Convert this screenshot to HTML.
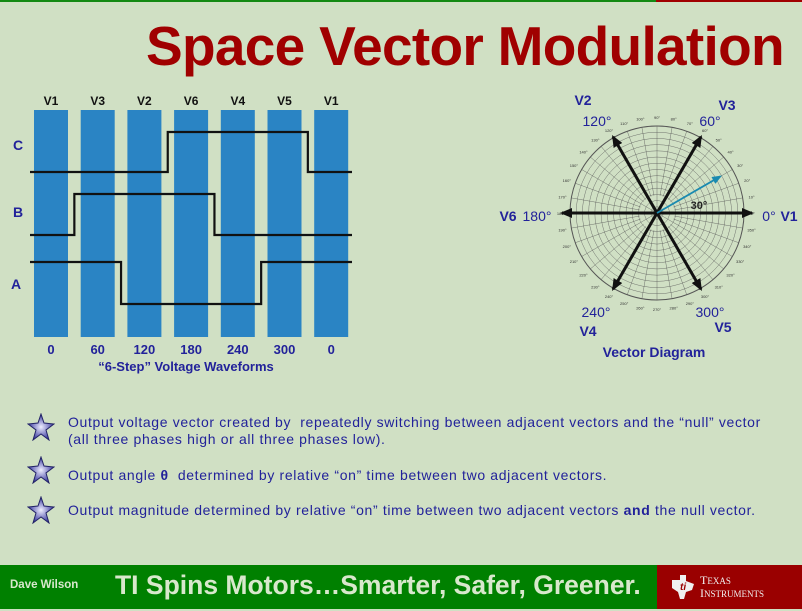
<!DOCTYPE html>
<html><head><meta charset="utf-8"><style>
body{margin:0;width:802px;height:611px;background:#D0E0C4;font-family:"Liberation Sans",Arial,sans-serif;overflow:hidden;position:relative}
.t{position:absolute;white-space:nowrap}
.blt{position:absolute;left:68px;font-size:14px;letter-spacing:0.65px;color:#22229a;line-height:17px;white-space:nowrap}
</style></head><body>
<div style="position:absolute;left:0;top:0;width:656px;height:2px;background:#138a13"></div>
<div style="position:absolute;left:656px;top:0;width:146px;height:2px;background:#a00000"></div>
<div class="t" style="left:146px;top:14px;font-size:55px;font-weight:bold;color:#a00000;letter-spacing:-0.7px">Space Vector Modulation</div>

<svg id="wave" width="802" height="611" style="position:absolute;left:0;top:0" font-family="Liberation Sans, Arial, sans-serif"></svg>

<div>
<svg style="position:absolute;left:27px;top:413px" width="28" height="28"><defs><radialGradient id="sg"><stop offset="0" stop-color="#eef"/><stop offset="1" stop-color="#3a3aa0"/></radialGradient></defs><polygon points="14,1 17,10 27,11 19,17 22,27 14,21 6,27 9,17 1,11 11,10" fill="url(#sg)" stroke="#222266" stroke-width="1"/></svg>
<svg style="position:absolute;left:27px;top:456px" width="28" height="28"><polygon points="14,1 17,10 27,11 19,17 22,27 14,21 6,27 9,17 1,11 11,10" fill="url(#sg)" stroke="#222266" stroke-width="1"/></svg>
<svg style="position:absolute;left:27px;top:496px" width="28" height="28"><polygon points="14,1 17,10 27,11 19,17 22,27 14,21 6,27 9,17 1,11 11,10" fill="url(#sg)" stroke="#222266" stroke-width="1"/></svg>
<div class="blt" style="top:414px">Output voltage vector created by&nbsp; repeatedly switching between adjacent vectors and the “null” vector<br>(all three phases high or all three phases low).</div>
<div class="blt" style="top:467px">Output angle <b>θ</b>&nbsp; determined by relative “on” time between two adjacent vectors.</div>
<div class="blt" style="top:502px">Output magnitude determined by relative “on” time between two adjacent vectors <b>and</b> the null vector.</div>
</div>

<div style="position:absolute;left:0;top:565px;width:657px;height:44px;background:#008000"></div>
<div style="position:absolute;left:657px;top:565px;width:145px;height:44px;background:#9a0000"></div>
<div class="t" style="left:10px;top:579px;font-size:11.5px;font-weight:bold;color:#d8e8cc">Dave Wilson</div>
<div class="t" style="left:115px;top:570px;font-size:26.5px;font-weight:bold;color:#d8e8cc">TI Spins Motors…Smarter, Safer, Greener.</div>
<svg style="position:absolute;left:668px;top:572px" width="30" height="30"><path d="M4,8 L12,8 L12,3 L18,3 L18,9 L26,12 L24,18 L18,20 L16,27 L12,27 L10,20 L4,16 Z" fill="#f0f0f0"/><text x="12" y="18" font-size="10" font-style="italic" font-weight="bold" fill="#9a0000">ti</text></svg>
<div class="t" style="left:700px;top:574px;font-family:'Liberation Serif',serif;font-size:12px;color:#f0f0f0;line-height:12px">T<span style="font-size:9px">EXAS</span><br>I<span style="font-size:9px">NSTRUMENTS</span></div>

<script>
const barLabels=["V1","V3","V2","V6","V4","V5","V1"];
const angleLabels=["0","60","120","180","240","300","0"];
const phaseA=[1,1,0,0,0,1,1];
const phaseB=[0,1,1,1,0,0,0];
const phaseC=[0,0,0,1,1,1,0];
const vecAngles=[0,60,120,180,240,300];
const vecNames=["V1","V3","V2","V6","V4","V5"];
const outAngle=30;
const outMag=0.84;

const NS="http://www.w3.org/2000/svg";
const svg=document.getElementById('wave');
function mk(tag,attrs,parent){const e=document.createElementNS(NS,tag);for(const k in attrs)e.setAttribute(k,attrs[k]);(parent||svg).appendChild(e);return e;}
function txt(x,y,s,size,fill,weight,anchor){const t=mk('text',{x:x,y:y,'font-size':size,fill:fill,'font-weight':weight||'bold','text-anchor':anchor||'middle'});t.textContent=s;return t;}
const x0=34,step=46.7,bw=34;
const bx=i=>x0+i*step;
for(let i=0;i<barLabels.length;i++){
  const r=mk('rect',{x:bx(i),y:110,width:bw,height:227,fill:'#2a84c4'});
  
  
  const l=txt(bx(i)+bw/2,105,barLabels[i],12,'#111');
  
  
  const a=txt(bx(i)+bw/2,354,angleLabels[i],13,'#22229a');
  
  
}
const wt=txt(186,371,"“6-Step” Voltage Waveforms",13,'#22229a');


function wave(states,lo,hi,name){
  const y=s=>s?hi:lo;
  let d='M30,'+y(states[0]);
  for(let i=1;i<states.length;i++){
    if(states[i]!==states[i-1]){const gx=(bx(i-1)+bw+bx(i))/2;d+=' L'+gx+','+y(states[i-1])+' L'+gx+','+y(states[i]);}
  }
  d+=' L352,'+y(states[states.length-1]);
  const p=mk('path',{d:d,fill:'none',stroke:'#111','stroke-width':2.2});
  
  
}
wave(phaseC,172,132,'phase-c-wave');
wave(phaseB,235,194,'phase-b-wave');
wave(phaseA,304,262,'phase-a-wave');
[["C",18,150],["B",18,217],["A",16,289]].forEach(v=>{const t=txt(v[1],v[2],v[0],14,'#22229a');});

const cx=657,cy=213,R=87;
const g=mk('g',{});


for(let k=1;k<=14;k++)mk('circle',{cx:cx,cy:cy,r:R*k/14,fill:'none',stroke:'#555','stroke-width':k==14?1:0.4},g);
for(let a=0;a<360;a+=10){const rr=(a%30==0)?0:R*0.2;const t=a*Math.PI/180;mk('line',{x1:cx+rr*Math.cos(t),y1:cy-rr*Math.sin(t),x2:cx+R*Math.cos(t),y2:cy-R*Math.sin(t),stroke:'#555','stroke-width':0.4},g);
  const lt=mk('text',{x:cx+(R+9)*Math.cos(t),y:cy-(R+9)*Math.sin(t)+2,'font-size':4,fill:'#333','text-anchor':'middle'},g);lt.textContent=a+'°';}
mk('defs',{}).innerHTML='<marker id="ah" markerUnits="userSpaceOnUse" markerWidth="12" markerHeight="10" refX="10" refY="5" orient="auto"><path d="M0,0 L12,5 L0,10 Z" fill="#111"/></marker><marker id="ab" markerUnits="userSpaceOnUse" markerWidth="10" markerHeight="8" refX="8" refY="4" orient="auto"><path d="M0,0 L10,4 L0,8 Z" fill="#1a8ab0"/></marker>';
vecAngles.forEach((a,i)=>{const t=a*Math.PI/180;const len=(a%180==0)?95:88;
  const l=mk('line',{x1:cx,y1:cy,x2:cx+len*Math.cos(t),y2:cy-len*Math.sin(t),stroke:'#111','stroke-width':3,'marker-end':'url(#ah)'});
  
  });
const ot=outAngle*Math.PI/180;
const ov=mk('line',{x1:cx,y1:cy,x2:cx+R*outMag*Math.cos(ot),y2:cy-R*outMag*Math.sin(ot),stroke:'#1a8ab0','stroke-width':1.8,'marker-end':'url(#ab)'});


const labs=[["V2",583,105,14,'bold'],["120°",597,126,14,'normal'],["V3",727,110,14,'bold'],["60°",710,126,14,'normal'],["V6",508,221,14,'bold'],["180°",537,221,14,'normal'],["0°",769,221,14,'normal'],["V1",789,221,14,'bold'],["240°",596,317,14,'normal'],["V4",588,336,14,'bold'],["300°",710,317,14,'normal'],["V5",723,332,14,'bold'],["30°",699,209,11,'bold'],["Vector Diagram",654,357,14,'bold']];
labs.forEach(v=>{const t=txt(v[1],v[2],v[0],v[3],v[0]=="30°"?'#222':'#22229a',v[4]);});
</script>
</body></html>
